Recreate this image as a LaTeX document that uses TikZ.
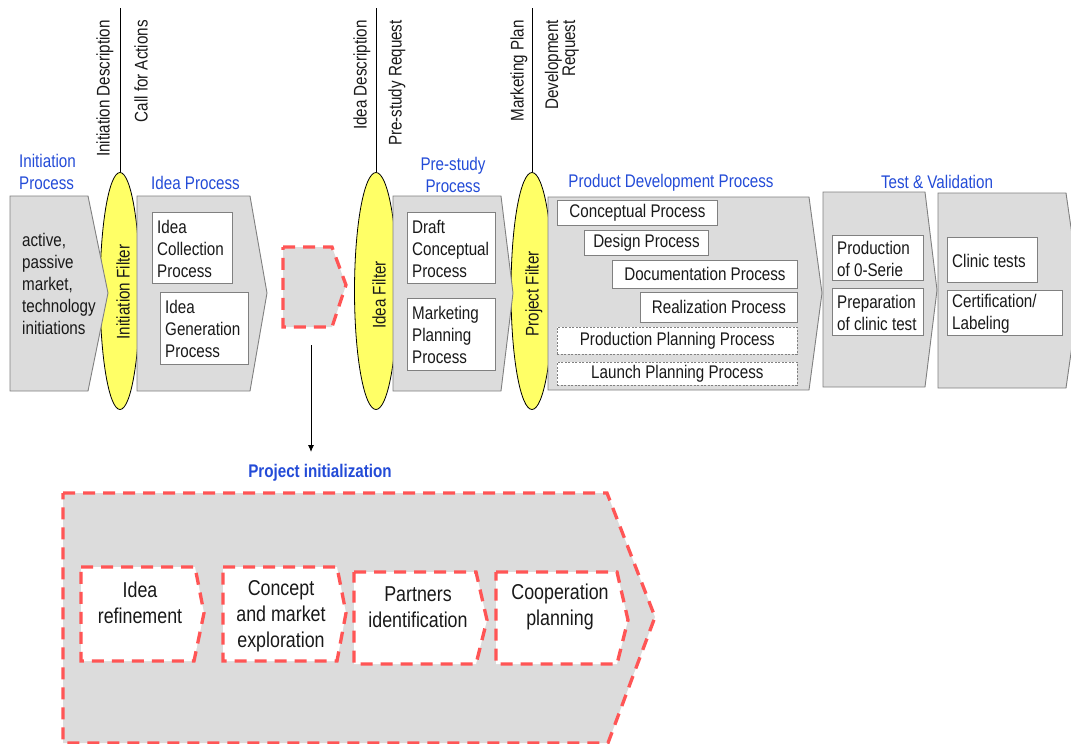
\documentclass[tikz,border=0pt]{standalone}
\usepackage{fontspec}
\setmainfont[FakeStretch=0.83]{Liberation Sans}
\usetikzlibrary{shapes.geometric,arrows.meta}
\definecolor{cgray}{RGB}{220,220,220}
\definecolor{bgray}{RGB}{128,128,128}
\definecolor{cblue}{RGB}{35,75,215}
\definecolor{cred}{RGB}{255,85,85}
\definecolor{cyel}{RGB}{255,255,102}
\definecolor{ctext}{RGB}{25,25,25}
\newcommand\mybox[6]{%
  \node[wbox, minimum width=#4pt, minimum height=#5pt] (#1) at (#2,#3) {};
  \node[anchor=west, align=left] (#1-t) at ([xshift=5pt,yshift=-1pt]#1.west) {#6};}
\begin{document}
\begin{tikzpicture}[x=1pt,y=-1pt,
  every node/.style={font=\fontsize{18.3}{22}\selectfont, inner sep=0pt, text=ctext},
  chev/.style={fill=cgray, draw=bgray, line width=0.9pt},
  wbox/.style={draw=bgray, fill=white, line width=0.9pt, anchor=north west},
  dbox/.style={draw=bgray, fill=white, line width=0.7pt, dash pattern=on 2pt off 1.5pt, anchor=north west, align=center},
  cbox/.style={draw=bgray, fill=white, line width=0.9pt, anchor=north west, align=center},
  filt/.style={ellipse, draw=black, fill=cyel, line width=0.8pt, inner sep=0pt},
  head/.style={text=cblue},
  rlab/.style={rotate=90, anchor=east},
  rdash/.style={draw=cred, line width=3.3pt, dash pattern=on 12pt off 8pt},
  big/.style={font=\fontsize{21.5}{26}\selectfont, align=center},
]
\useasboundingbox (0,0) rectangle (1071,744);
\clip (0,0) rectangle (1071,744);

% filters (ellipses) first
\node[filt, minimum width=40pt, minimum height=237pt] (f1) at (120,291) {};
\node[filt, minimum width=43pt, minimum height=237pt] (f2) at (376,291) {};
\node[filt, minimum width=42pt, minimum height=237pt] (f3) at (532,291) {};
\coordinate (t1) at (120,8);
\coordinate (t2) at (376,8);
\coordinate (t3) at (532,8);
\draw[line width=0.9pt] (t1) -- (f1.north);
\draw[line width=0.9pt] (t2) -- (f2.north);
\draw[line width=0.9pt] (t3) -- (f3.north);

% chevrons
\draw[chev] (10,196) -- (88,196) -- (108,293) -- (88,391) -- (10,391) -- cycle;
\draw[chev] (137,196) -- (250,196) -- (267,293) -- (250,391) -- (137,391) -- cycle;
\draw[chev] (393,196) -- (501,196) -- (513,293) -- (501,391) -- (393,391) -- cycle;
\draw[chev] (548,197) -- (809,197) -- (822,293) -- (809,390) -- (548,390) -- cycle;
\draw[chev] (823,192) -- (925,192) -- (937,290) -- (925,387) -- (823,387) -- cycle;
\draw[chev] (938,193) -- (1066,193) -- (1080,290) -- (1066,388) -- (938,388) -- cycle;

% filter labels
\node[rotate=90] (f1-t) at (123,292) {Initiation Filter};
\node[rotate=90] (f2-t) at (379,295) {Idea Filter};
\node[rotate=90] (f3-t) at (534,294) {Project Filter};

% rotated document labels
\node[rlab] (l1) at (105,20) {Initiation Description};
\node[rlab] (l2) at (141,20) {Call for Actions};
\node[rlab] (l3) at (362,20) {Idea Description};
\node[rlab] (l4) at (397,20) {Pre-study Request};
\node[rlab] (l5) at (519,20) {Marketing Plan};
\node[rlab, align=right, font=\fontsize{18.3}{17}\selectfont] (l6) at (562,20) {Development\\Request};

% headings
\node[head, anchor=west, align=left] (h1) at (19,172) {Initiation\\Process};
\node[head, anchor=west] (h2) at (151,183) {Idea Process};
\node[head, align=center] (h3) at (453,175) {Pre-study\\Process};
\node[head] (h4) at (671,183) {Product Development Process};
\node[head] (h5) at (937,182) {Test \& Validation};

% initiation process text
\node[anchor=west, align=left] (ip) at (22,284) {active,\\passive\\market,\\technology\\initiations};

% boxes
\mybox{ic}{152}{212}{80}{71}{Idea\\Collection\\Process}
\mybox{ig}{160}{292}{88}{72}{Idea\\Generation\\Process}
\mybox{dc}{407}{212}{88}{71}{Draft\\Conceptual\\Process}
\mybox{mp}{407}{298}{88}{72}{Marketing\\Planning\\Process}
\node[cbox, minimum width=160pt, minimum height=25pt] (cp) at (557,200) {Conceptual Process};
\node[cbox, minimum width=124pt, minimum height=25pt] (dp) at (584,230) {Design Process};
\node[cbox, minimum width=185pt, minimum height=28pt] (docp) at (612,260) {Documentation Process};
\node[cbox, minimum width=157pt, minimum height=30pt] (rp) at (640,292) {Realization Process};
\node[dbox, minimum width=240pt, minimum height=27pt] (pp) at (557,327) {Production Planning Process};
\node[dbox, minimum width=240pt, minimum height=23pt] (lp) at (557,362) {Launch Planning Process};
\mybox{p0}{832}{235}{91}{45}{Production\\of 0-Serie}
\mybox{pc}{832}{288}{91}{47}{Preparation\\of clinic test}
\mybox{ct}{947}{237}{90}{45}{Clinic tests}
\mybox{cl}{947}{290}{115}{45}{Certification/\\Labeling}

% small dashed placeholder
\draw[rdash, fill=cgray] (283,247) -- (332,247) -- (346,285) -- (332,327) -- (283,327) -- cycle;
\coordinate (a1) at (311,345);
\coordinate (a2) at (311,452);
\draw[line width=0.9pt, -{Latex[length=7pt,width=6pt]}] (a1) -- (a2);

% project initialization
\node[head, font=\bfseries\fontsize{18.3}{22}\selectfont] (pi) at (320,473) {Project initialization};
\draw[rdash, fill=cgray] (63,493) -- (607,493) -- (655,617) -- (608,743) -- (63,743) -- cycle;
\draw[rdash, fill=white] (81,567) -- (195,567) -- (204,613) -- (194,661) -- (81,661) -- cycle;
\draw[rdash, fill=white] (223,567) -- (337,567) -- (346,613) -- (337,661) -- (223,661) -- cycle;
\draw[rdash, fill=white] (354,572) -- (476,572) -- (487,620) -- (476,664) -- (354,664) -- cycle;
\draw[rdash, fill=white] (496,572) -- (617,572) -- (628,620) -- (617,664) -- (496,664) -- cycle;
\node[big] (s1) at (140,603) {Idea\\refinement};
\node[big] (s2) at (281,616) {Concept\\and market\\exploration};
\node[big] (s3) at (418,607) {Partners\\identification};
\node[big] (s4) at (560,607) {Cooperation\\planning};
\end{tikzpicture}
\end{document}
